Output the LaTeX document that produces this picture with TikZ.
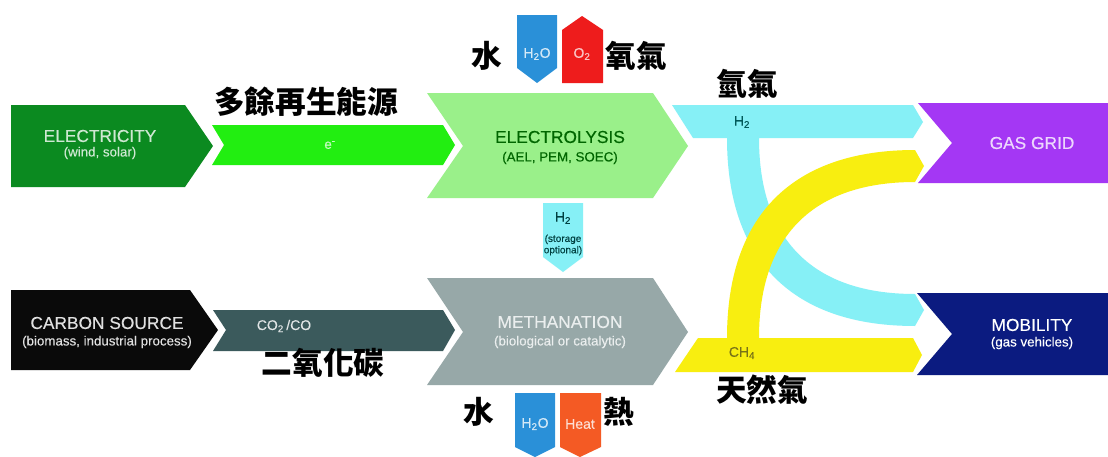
\documentclass[tikz,border=0pt]{standalone}
\usepackage{fontspec}
\setmainfont{Liberation Sans}[FakeBold=0.3]
\newfontfamily\cjk{Noto Sans CJK TC}
\definecolor{cElec}{HTML}{0B8A20}
\definecolor{cE}{HTML}{22EE11}
\definecolor{cLys}{HTML}{9AF08A}
\definecolor{cCarb}{HTML}{0A0A0A}
\definecolor{cCO}{HTML}{3B5A5C}
\definecolor{cMeth}{HTML}{97A8A8}
\definecolor{cCyan}{HTML}{86F0F6}
\definecolor{cYel}{HTML}{F8EE10}
\definecolor{cGrid}{HTML}{A437F4}
\definecolor{cMob}{HTML}{0B1B80}
\definecolor{cWater}{HTML}{2A90D8}
\definecolor{cOx}{HTML}{EE1C1C}
\definecolor{cHeat}{HTML}{F45A24}
\tikzset{
  ttl/.style={font=\fontsize{13}{14}\selectfont, inner sep=0pt},
  sub/.style={font=\fontsize{10}{11}\selectfont, inner sep=0pt},
  zh/.style={font=\cjk\bfseries\fontsize{23}{24}\selectfont, inner sep=0pt, text=black},
  small/.style={font=\fontsize{10.5}{11}\selectfont, inner sep=0pt},
}
\begin{document}
\begin{tikzpicture}[x=0.75pt,y=-0.75pt]
\useasboundingbox (0,0) rectangle (1108,457);
\fill[white] (0,0) rectangle (1108,457);
% left chain
\fill[cElec] (11,105) -- (185,105) -- (213,146) -- (185,187) -- (11,187) -- cycle;
\fill[cE] (212,125) -- (443,125) -- (455,145) -- (443,165) -- (212,165) -- (224,145) -- cycle;
\fill[cLys] (427,93) -- (653,93) -- (688,146) -- (653,198) -- (427,198) -- (463,146) -- cycle;
\fill[cCarb] (11,290) -- (190,290) -- (218,330) -- (190,370) -- (11,370) -- cycle;
\fill[cCO] (213,310) -- (443,310) -- (455,330) -- (443,351) -- (213,351) -- (226,330) -- cycle;
\fill[cMeth] (427,278) -- (653,278) -- (688,332) -- (653,385) -- (427,385) -- (463,332) -- cycle;
% small arrows
\fill[cCyan] (543,203) -- (583,203) -- (583,257) -- (563,272) -- (543,257) -- cycle;
\fill[cWater] (517,15) -- (557,15) -- (557,68) -- (537,83) -- (517,68) -- cycle;
\fill[cOx] (562,83) -- (562,30) -- (582,16) -- (603,30) -- (603,83) -- cycle;
\fill[cWater] (515,393) -- (555,393) -- (555,447) -- (535,457) -- (515,447) -- cycle;
\fill[cHeat] (560,393) -- (601,393) -- (601,447) -- (580,457) -- (560,447) -- cycle;
% outputs
\fill[cGrid] (918,103) -- (1108,103) -- (1108,183) -- (918,183) -- (952,143) -- cycle;
\fill[cMob] (917,293) -- (1108,293) -- (1108,375) -- (917,375) -- (952,334) -- cycle;
% cyan H2 branch
\fill[cCyan] (672,105) -- (913,105) -- (923,122) -- (913,138) -- (759,138)
  .. controls (759,240) and (813,294) .. (915,294) -- (924,310) -- (915,326)
  .. controls (793,326) and (727,261) .. (727,138) -- (693,138) -- cycle;
% yellow CH4 branch
\fill[cYel] (698,338) -- (727,338)
  .. controls (727,215) and (793,150) .. (915,150) -- (924,166) -- (915,182)
  .. controls (813,182) and (759,236) .. (759,338) -- (913,338) -- (922,355) -- (913,372) -- (675,372) -- cycle;
% texts in shapes
\node[ttl, text=white!80!cElec] (t1) at (100,136) {ELECTRICITY};
\node[sub, text=white!80!cElec] (t1s) at (100,153) {(wind, solar)};
\node[sub, text=white!75!cE] (te) at (330,145) {e\textsuperscript{-}};
\node[ttl, text=green!40!black] (t2) at (560,137) {ELECTROLYSIS};
\node[sub, text=green!40!black] (t2s) at (560,158) {(AEL, PEM, SOEC)};
\node[ttl, text=white!88!black] (t3) at (107,323) {CARBON SOURCE};
\node[sub, text=white!88!black] (t3s) at (107,342) {(biomass, industrial process)};
\node[small, text=white!85!cCO] (t4) at (284,326) {CO\textsubscript{2}\,/CO};
\node[ttl, text=white!80!cMeth] (t5) at (560,322) {METHANATION};
\node[sub, text=white!80!cMeth] (t5s) at (560,342) {(biological or catalytic)};
\node[ttl, text=white!80!cGrid] (t6) at (1032,143) {GAS GRID};
\node[ttl, text=white] (t7) at (1032,325) {MOBILITY};
\node[sub, text=white] (t7s) at (1032,343) {(gas vehicles)};
\node[small, text=teal!70!black] (h2a) at (742,122) {H\textsubscript{2}};
\node[small, text=olive!80!black] (ch4) at (742,353) {CH\textsubscript{4}};
\node[small, text=teal!50!black] (h2s) at (563,218) {H\textsubscript{2}};
\node[font=\fontsize{7.5}{8.5}\selectfont, inner sep=0pt, text=teal!50!black, align=center] (h2st) at (563,245) {(storage\\optional)};
\node[small, text=white!80!cWater] (w1) at (537,54) {H\textsubscript{2}O};
\node[small, text=white!75!cOx] (o1) at (582,54) {O\textsubscript{2}};
\node[small, text=white!80!cWater] (w2) at (535,424) {H\textsubscript{2}O};
\node[small, text=white!80!cHeat] (hh) at (580,424) {Heat};
% CJK labels
\node[zh] (z1) at (306,102) {多餘再生能源};
\node[zh] (z2) at (487,56) {水};
\node[zh] (z3) at (636,56) {氧氣};
\node[zh] (z4) at (747,84) {氫氣};
\node[zh] (z5) at (323,363) {二氧化碳};
\node[zh] (z6) at (479,412) {水};
\node[zh] (z7) at (619,412) {熱};
\node[zh] (z8) at (762,390) {天然氣};
\end{tikzpicture}
\end{document}
